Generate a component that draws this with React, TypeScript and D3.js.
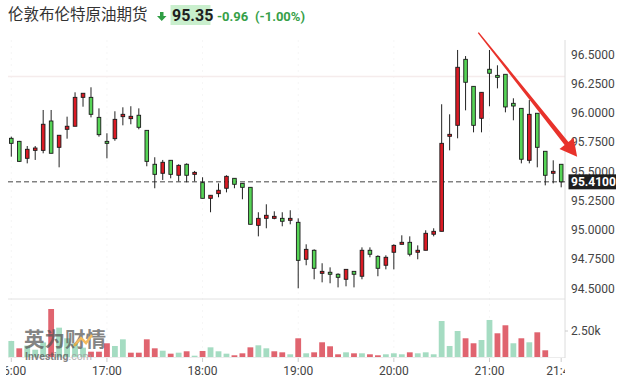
import * as d3 from "d3";

// header
const title = "伦敦布伦特原油期货";
const quote = "95.35";
const change = "-0.96";
const changePct = "(-1.00%)";

// 5-minute candles starting at 16:00
const startTime = "16:00";
const stepMinutes = 5;
const opens = [
  95.782, 95.756, 95.611, 95.679, 95.679, 95.93, 95.705, 95.859, 95.885, 96.132,
  96.132, 95.961, 95.756, 95.779, 95.967, 95.95, 95.979, 95.85, 95.56, 95.483,
  95.594, 95.466, 95.56, 95.474, 95.403, 95.269, 95.309, 95.355, 95.44, 95.397,
  95.363, 95.038, 95.098, 95.098, 95.098, 95.081, 95.064, 94.748, 94.825, 94.628,
  94.637, 94.62, 94.577, 94.645, 94.603, 94.825, 94.773, 94.697, 94.808, 94.876,
  94.893, 94.808, 94.825, 94.962, 94.987, 95.799, 95.893, 96.457, 96.226, 95.953,
  96.372, 96.32, 96.329, 96.081, 96.038, 95.594, 95.996, 95.671, 95.483, 95.56,
];
const highs = [
  95.796, 95.76, 95.716, 95.716, 96.024, 96.024, 95.808, 95.967, 96.175, 96.167,
  96.218, 96.038, 95.825, 96.013, 96.047, 96.056, 96.038, 95.85, 95.62, 95.597,
  95.594, 95.56, 95.568, 95.503, 95.449, 95.295, 95.397, 95.466, 95.44, 95.397,
  95.363, 95.15, 95.218, 95.158, 95.15, 95.167, 95.098, 94.876, 94.833, 94.714,
  94.679, 94.628, 94.662, 94.645, 94.85, 94.85, 94.782, 94.782, 94.876, 94.953,
  94.944, 94.867, 94.996, 95.013, 96.073, 95.987, 96.537, 96.485, 96.226, 96.175,
  96.537, 96.406, 96.329, 96.124, 96.038, 96.109, 95.996, 95.671, 95.594, 95.56,
];
const lows = [
  95.625, 95.58, 95.568, 95.597, 95.654, 95.654, 95.534, 95.779, 95.885, 96.052,
  95.961, 95.796, 95.611, 95.761, 95.893, 95.902, 95.859, 95.543, 95.355, 95.426,
  95.44, 95.414, 95.406, 95.414, 95.269, 95.15, 95.278, 95.32, 95.355, 95.261,
  95.047, 94.944, 95.013, 95.09, 95.03, 95.047, 94.5, 94.697, 94.577, 94.551,
  94.543, 94.508, 94.517, 94.508, 94.577, 94.765, 94.603, 94.662, 94.662, 94.876,
  94.773, 94.748, 94.825, 94.944, 94.987, 95.679, 95.782, 96.021, 95.833, 95.833,
  96.056, 96.209, 96.004, 95.936, 95.568, 95.568, 95.534, 95.38, 95.397, 95.363,
];
const closes = [
  95.739, 95.585, 95.688, 95.699, 95.902, 95.654, 95.808, 95.885, 96.132, 96.167,
  95.987, 95.813, 95.739, 95.944, 95.987, 95.97, 95.876, 95.585, 95.474, 95.577,
  95.474, 95.551, 95.466, 95.491, 95.269, 95.295, 95.338, 95.457, 95.389, 95.363,
  95.047, 95.098, 95.124, 95.115, 95.073, 95.098, 94.739, 94.833, 94.671, 94.645,
  94.62, 94.594, 94.662, 94.62, 94.825, 94.791, 94.671, 94.765, 94.867, 94.893,
  94.791, 94.825, 94.97, 94.987, 95.739, 95.816, 96.389, 96.261, 95.893, 96.175,
  96.338, 96.303, 96.05, 96.058, 95.603, 95.987, 95.705, 95.466, 95.5, 95.41,
];
const volumes = [
  1540, 835, 1100, 700, 1400, 4615, 2820, 1800, 1300, 900,
  510, 510, 1320, 1060, 1700, 415, 415, 1700, 835, 605,
  320, 415, 550, 125, 580, 930, 550, 320, 165, 355,
  930, 1125, 835, 550, 450, 260, 1800, 355, 450, 1415,
  1030, 260, 450, 355, 355, 260, 165, 260, 355, 260,
  450, 355, 450, 260, 3460, 1060, 2500, 1800, 1320, 1635,
  3560, 2280, 3050, 1320, 1800, 1415, 2375, 645, 0, 0,
];

const priceTicks = [94.5, 94.75, 95.0, 95.25, 95.5, 95.75, 96.0, 96.25, 96.5];
const volumeTicks = [2500];
const timeTicks = ["16:00", "17:00", "18:00", "19:00", "20:00", "21:00", "21:45"];
const lastPrice = 95.41;
const prevClose = 96.31;

// hand-drawn red arrow annotation, in chart coordinates
const arrowFrom = { time: "20:53", price: 96.685 };
const arrowTo = { time: "21:55", price: 95.625 };

const W = 624;
const H = 388;
const plotLeft = 8;
const plotRight = 565;
const RED = "#db1a24";
const GREEN = "#56d456";
const VOL_RED = "#e0646f";
const VOL_GREEN = "#a5dcc2";
const NUM_FONT = "Roboto, 'Liberation Sans', Arial, sans-serif";

const parseTime = d3.timeParse("%H:%M");

export default function App() {
  const t0 = parseTime(startTime) as Date;
  const times = opens.map((_, i) => d3.timeMinute.offset(t0, i * stepMinutes));

  const x = d3
    .scaleTime()
    .domain([parseTime("16:00") as Date, parseTime("21:45") as Date])
    .range([11.3, 561.2]);
  const y = d3.scaleLinear().domain([94.5, 96.5]).range([288.3, 54.3]);
  const v = d3.scaleLinear().domain([0, 2500]).range([357, 331]);

  const bodyW = 3.6;
  const volW = 5.8;

  // arrow polygon
  const ax0 = x(parseTime(arrowFrom.time) as Date);
  const ay0 = y(arrowFrom.price);
  const ax1 = x(parseTime(arrowTo.time) as Date);
  const ay1 = y(arrowTo.price);
  const len = Math.hypot(ax1 - ax0, ay1 - ay0);
  const ux = (ax1 - ax0) / len;
  const uy = (ay1 - ay0) / len;
  const nx = -uy;
  const ny = ux;
  const headLen = 17;
  const bx = ax1 - ux * headLen;
  const by = ay1 - uy * headLen;
  const pt = (px: number, py: number, k: number) => `${px + nx * k},${py + ny * k}`;
  const arrowPts = [
    pt(ax0, ay0, 0.7),
    pt(bx, by, 2.4),
    pt(bx, by, 9),
    `${ax1},${ay1}`,
    pt(bx, by, -9),
    pt(bx, by, -2.4),
    pt(ax0, ay0, -0.7),
  ].join(" ");

  return (
    <svg
      width={W}
      height={H}
      style={{ position: "absolute", left: 0, top: 0, background: "#fff" }}
    >
      <defs>
        <clipPath id="xlab">
          <rect x={6} y={360} width={plotRight - 6} height={28} />
        </clipPath>
      </defs>

      {/* header */}
      <text
        x={8}
        y={20}
        fontFamily="'Noto Sans CJK SC', sans-serif"
        fontSize={15.5}
        fill="#333"
      >
        {title}
      </text>
      <path d="M160 12 H163.5 V16 H166.5 L161.75 21 L157 16 H160 Z" fill="#2f9e44" />
      <rect x={170.5} y={5} width={40} height={20} fill="#c9efcd" />
      <text x={172} y={20.7} fontFamily={NUM_FONT} fontWeight="bold" fontSize={16} fill="#1f1f1f">
        {quote}
      </text>
      <text x={217} y={20.5} fontFamily={NUM_FONT} fontWeight="bold" fontSize={13} fill="#36a048">
        {change}
      </text>
      <text x={255} y={20.5} fontFamily={NUM_FONT} fontWeight="bold" fontSize={13} fill="#36a048">
        {changePct}
      </text>

      {/* faint hour grid */}
      {timeTicks.slice(0, 6).map((t) => (
        <line
          key={"g" + t}
          x1={x(parseTime(t) as Date)}
          x2={x(parseTime(t) as Date)}
          y1={40}
          y2={357}
          stroke="#f6f6f6"
          strokeDasharray="2,4"
        />
      ))}

      {/* previous close line */}
      <line x1={plotLeft} x2={plotRight} y1={y(prevClose)} y2={y(prevClose)} stroke="#f5ecec" strokeWidth={1.5} />

      {/* panel separator + axis */}
      <line x1={plotLeft} x2={plotRight} y1={299} y2={299} stroke="#e2e2e2" />
      <line x1={plotLeft} x2={plotRight} y1={357.5} y2={357.5} stroke="#ececec" />
      <line x1={plotRight} x2={plotRight} y1={40} y2={358} stroke="#dcdcdc" />

      {/* last price dashed line */}
      <line
        x1={plotLeft}
        x2={plotRight}
        y1={y(lastPrice)}
        y2={y(lastPrice)}
        stroke="#444"
        strokeDasharray="5,3"
      />

      {/* volume bars */}
      {volumes.map((vol, i) => {
        const up = i === 0 ? true : closes[i] >= closes[i - 1];
        const cx = x(times[i]);
        return vol > 0 ? (
          <rect
            key={"v" + i}
            x={cx - volW / 2}
            y={v(vol)}
            width={volW}
            height={v(0) - v(vol)}
            fill={up ? VOL_GREEN : VOL_RED}
          />
        ) : null;
      })}

      {/* watermark, over the volume bars */}
      <g opacity={0.72}>
        <text
          x={24}
          y={346.5}
          fontFamily="'Noto Sans CJK SC', sans-serif"
          fontWeight="bold"
          fontSize={20.5}
          fill="#555"
        >
          英为财情
        </text>
        <path d="M74 346 L81 338 L86 343 L92 335" fill="none" stroke="#f0a020" strokeWidth={2.5} />
        <text x={25} y={359.5} fontFamily={NUM_FONT} fontWeight="bold" fontSize={10.5} fill="#555">
          Investing
          <tspan fill="#999" fontWeight="normal">.com</tspan>
        </text>
      </g>

      {/* candles */}
      {opens.map((o, i) => {
        const c = closes[i];
        const cx = x(times[i]);
        const top = y(Math.max(o, c));
        const h = Math.max(1.6, y(Math.min(o, c)) - top);
        return (
          <g key={"c" + i}>
            <line x1={cx} x2={cx} y1={y(highs[i])} y2={y(lows[i])} stroke="#222" strokeWidth={1} />
            <rect
              x={cx - bodyW / 2}
              y={top}
              width={bodyW}
              height={h}
              fill={c > o ? RED : GREEN}
              stroke="#1a1a1a"
              strokeWidth={0.9}
            />
          </g>
        );
      })}

      {/* price axis labels */}
      {priceTicks.map((p) => (
        <text
          key={"p" + p}
          x={571}
          y={y(p)}
          dy="0.36em"
          fontFamily={NUM_FONT}
          fontSize={12}
          fill="#444"
        >
          {d3.format(".4f")(p)}
        </text>
      ))}
      <rect x={568.5} y={y(lastPrice) - 7.5} width={47.5} height={15} fill="#1e1e1e" />
      <text
        x={571}
        y={y(lastPrice)}
        dy="0.36em"
        fontFamily={NUM_FONT}
        fontWeight="bold"
        fontSize={12}
        fill="#fff"
      >
        {d3.format(".4f")(lastPrice)}
      </text>

      {/* volume axis */}
      {volumeTicks.map((t) => (
        <g key={"vt" + t}>
          <line x1={plotRight} x2={plotRight + 3} y1={v(t)} y2={v(t)} stroke="#ccc" />
          <text x={571} y={v(t)} dy="0.36em" fontFamily={NUM_FONT} fontSize={12} fill="#444">
            {d3.format(".2f")(t / 1000) + "k"}
          </text>
        </g>
      ))}

      {/* time axis */}
      {timeTicks.map((t) => {
        const tx = x(parseTime(t) as Date);
        return (
          <line key={"tk" + t} x1={tx} x2={tx} y1={358} y2={362} stroke="#ccc" />
        );
      })}
      <g clipPath="url(#xlab)">
        {timeTicks.map((t) => (
          <text
            key={"tl" + t}
            x={x(parseTime(t) as Date)}
            y={375}
            textAnchor="middle"
            fontFamily={NUM_FONT}
            fontSize={12}
            fill="#444"
          >
            {t}
          </text>
        ))}
      </g>

      {/* red arrow annotation */}
      <polygon points={arrowPts} fill="#e8322b" />
    </svg>
  );
}
